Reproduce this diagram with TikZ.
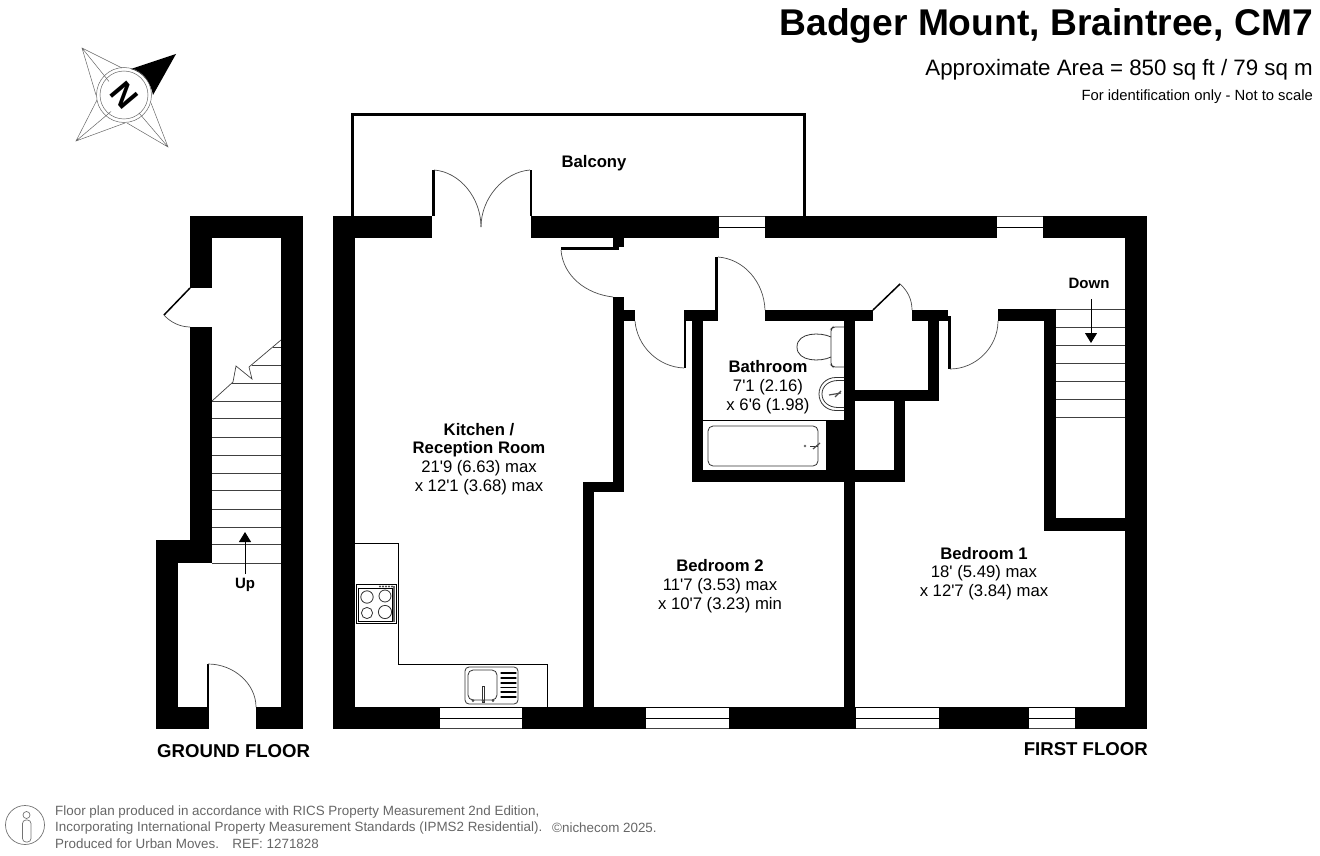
\documentclass[tikz,border=0pt]{standalone}
\usepackage{fontspec}
\setmainfont{Liberation Sans}
\usetikzlibrary{arrows.meta,calc}
\newcommand{\ft}{\textquotesingle}
\begin{document}
\begin{tikzpicture}
  [x=1pt,y=-1pt,line join=miter,
   wall/.style={fill=black},
   thin line/.style={draw=black,line width=0.7pt},
   tread/.style={draw=black!75,line width=1pt},
   arc line/.style={draw=black!70,line width=0.7pt},
   fixture/.style={draw=black!80,line width=0.8pt},
   walk arrow/.style={draw=black,line width=1pt,-{Triangle[length=10pt,width=12pt]}},
   star line/.style={draw=black!60,line width=0.5pt},
   room/.style={align=center,inner sep=0pt,font=\fontsize{16.7}{18.7}\selectfont},
   foot/.style={anchor=west,inner sep=0pt,text=black!60,font=\fontsize{13.4}{15}\selectfont}]
  \useasboundingbox (0,0) rectangle (1320,856);
  % ground floor
  \foreach \xa/\ya/\xb/\yb in {190/216/303/238,190/216/212/288,190/327/212/563,156/540/212/563,
      156/540/178/729,156/707/207/729,256/707/303/729,281/216/303/729,
      206.5/664/208.5/729}
    \fill[wall] (\xa,\ya) rectangle (\xb,\yb);
  \draw[black,line width=1.5pt] (190,288) -- (164,315);
  \draw[arc line] (164,315) .. controls (170,322) and (180,327) .. (190,327);
  \draw[arc line] (208,664) .. controls (234,664) and (256,684) .. (256,707);
  \foreach \y in {401,418,437,455,473,490,509,527,544,563}
    \draw[tread] (212,\y) -- (281,\y);
  \foreach \x/\y in {232/383,252/365,273/347}
    \draw[tread] (\x,\y) -- (281,\y);
  \draw[thin line,draw=black!75] (212,401) -- (233,382) -- (236,366) -- (252,379) -- (249,367) -- (281,340);
  \coordinate (up start) at (245,574);
  \coordinate (up end) at (245,532);
  \draw[walk arrow] (up start) -- (up end);
  \node[inner sep=0pt,font=\fontsize{15}{16}\bfseries\selectfont] (up) at (245,585) {Up};
  % first floor
  \foreach \xa/\ya/\xb/\yb in {333/216/432/238,531/216/1147/238,333/216/355/729,1125/216/1147/729,
      333/707/1147/729,613/238/624/247,561/247/619/250,613/297/624/492,583/482/624/492,583/482/594/707,
      624/310/635/321,684/310/716/321,765/310/873/321,912/310/948/321,998/309/1056/321,
      1044/309/1056/531,1044/518/1125/531,692/310/703/482,692/470/855/482,826/420/844/470,
      844/310/855/707,928/321/939/401,855/390/939/401,894/401/905/482,855/470/905/482,
      432/170/434.5/216,529.5/170/532/216,715/257/718/321,683.5/310/685.5/368,948/316/950.5/369}
    \fill[wall] (\xa,\ya) rectangle (\xb,\yb);
  \draw[black,line width=1.5pt] (873,310) -- (900,284);
  \draw[black,line width=3pt] (352,216) -- (352,114.5) -- (804,114.5) -- (804,216);
  % windows
  \foreach \xa/\xb in {719/765,997/1043} {
    \fill[white] (\xa,217) rectangle (\xb,238);
    \draw[thin line] (\xa,227.5) -- (\xb,227.5);
    \draw[tread] (\xa,216.5) -- (\xb,216.5);
  }
  \foreach \xa/\xb in {440/522,646/729,856/939,1029/1075} {
    \fill[white] (\xa,708) rectangle (\xb,728);
    \draw[thin line] (\xa,718) -- (\xb,718);
    \draw[tread] (\xa,728.5) -- (\xb,728.5);
  }
  % door swings
  \draw[arc line] (434,170) .. controls (460,172) and (481,198) .. (481,227);
  \draw[arc line] (530,170) .. controls (504,172) and (481,198) .. (481,227);
  \draw[arc line] (561,250) .. controls (563,276) and (586,294) .. (613,297);
  \draw[arc line] (635,321) .. controls (637,346) and (658,367) .. (684,368);
  \draw[arc line] (718,257) .. controls (744,259) and (764,282) .. (765,310);
  \draw[arc line] (900,284) .. controls (908,291) and (912,300) .. (912,310);
  \draw[arc line] (950,369) .. controls (976,369) and (998,347) .. (998,321);
  % stairs
  \foreach \y in {309,327,345,363,381,399,417}
    \draw[tread] (1056,\y) -- (1125,\y);
  \coordinate (down start) at (1091,299);
  \coordinate (down end) at (1091,343);
  \draw[walk arrow] (down start) -- (down end);
  % kitchen units
  \draw[thin line] (355,543) -- (398,543) -- (398,664) -- (547,664) -- (547,707);
  \draw[thin line] (356,584) rectangle (396,623);
  \draw[thin line] (358,588) rectangle (392,621);
  \fill[black!60] (392.5,586) rectangle (395,622);
  \foreach \x/\y/\r in {367/597/6.2,385/596/6,367/613/5.6,385/612/6.6}
    \draw[fixture] (\x,\y) circle (\r);
  \foreach \x in {380,383,386,389,392}
    \fill[black!70] (\x,586.5) circle (1.2);
  \draw[fixture,rounded corners=4pt] (465,667) rectangle (518,704);
  \draw[fixture,rounded corners=5pt] (468,670) rectangle (497,700);
  \foreach \y in {673,678,683,687.5,692,697}
    \draw[black,line width=1.3pt,line cap=round] (501,\y) -- (516,\y);
  \draw[fixture,fill=white] (482,686) rectangle (484.5,702);
  \foreach \x in {473,483,493}
    \fill[black!70] (\x,700.5) circle (1.5);
  % bathroom
  \draw[thin line] (703,420) -- (826,420);
  \draw[fixture,rounded corners=5pt] (708,426) rectangle (818,466);
  \fill[black!60] (805,446) circle (1.3);
  \draw[fixture] (810,446) -- (818,446);
  \draw[black!70,line width=1.2pt] (813,449) -- (820,443);
  \draw[fixture,rounded corners=2pt] (844,327) -- (833,327) -- (831,329) -- (831,365) -- (833,367) -- (844,367);
  \draw[fixture] (831,337) .. controls (821,332) and (797,332) .. (797,347) .. controls (797,362) and (821,362) .. (831,357);
  \draw[fixture] (844,377.5) -- (836,377.5) .. controls (826,377.5) and (819,385) .. (819,394) .. controls (819,403) and (826,410.5) .. (836,410.5) -- (844,410.5);
  \draw[fixture] (844,380.5) -- (838,380.5) .. controls (829,380.5) and (822,386) .. (822,394) .. controls (822,402) and (829,407.5) .. (838,407.5) -- (844,407.5);
  \draw[black!70,line width=1.2pt] (829,395) -- (841,393);
  \draw[black!70,line width=1.2pt] (835,397) -- (841,391);
  % labels
  \node[room] (balcony) at (594,163) {\bfseries Balcony};
  \node[room] (kitchen) at (479,459) {\bfseries Kitchen /\\\bfseries Reception Room\\21\ft9 (6.63) max\\x 12\ft1 (3.68) max};
  \node[room] (bathroom) at (768,387) {\bfseries Bathroom\\7\ft1 (2.16)\\x 6\ft6 (1.98)};
  \node[room] (bedroom two) at (720,586) {\bfseries Bedroom 2\\11\ft7 (3.53) max\\x 10\ft7 (3.23) min};
  \node[room] (bedroom one) at (984,573.5) {\bfseries Bedroom 1\\18\ft{} (5.49) max\\x 12\ft7 (3.84) max};
  \node[inner sep=0pt,font=\fontsize{15}{16}\bfseries\selectfont] (down) at (1089,283) {Down};
  \node[anchor=west,inner sep=0pt,font=\fontsize{18.6}{20}\bfseries\selectfont] (ground floor) at (157,751) {GROUND FLOOR};
  \node[anchor=east,inner sep=0pt,font=\fontsize{18.6}{20}\bfseries\selectfont] (first floor) at (1148,749) {FIRST FLOOR};
  % heading
  \node[anchor=east,inner sep=0pt,font=\fontsize{37.2}{40}\bfseries\selectfont] (title) at (1313,26) {Badger Mount, Braintree, CM7};
  \node[anchor=east,inner sep=0pt,font=\fontsize{22.3}{26}\selectfont] (area) at (1313,69.5) {Approximate Area = 850 sq ft / 79 sq m};
  \node[anchor=east,inner sep=0pt,font=\fontsize{14.8}{16}\selectfont] (scale) at (1313,96.5) {For identification only - Not to scale};
  % compass
  \coordinate (compass) at (124,95);
  \foreach \tx/\ty/\ax/\ay/\bx/\by in {82/48/122/68/96/95,76/141/97/100/125/123,168/147/151/103/127/123}
    \draw[star line] (\ax,\ay) -- (\tx,\ty) -- (\bx,\by) (\tx,\ty) -- ($(\ax,\ay)!0.5!(\bx,\by)$);
  \fill[black] (176,54) -- (131,69) .. controls (143,72) and (151,83) .. (153,95) -- cycle;
  \draw[star line] (compass) circle (27.5);
  \draw[star line] (compass) circle (24);
  \node[rotate=-50,inner sep=0pt,font=\fontsize{32}{33}\bfseries\selectfont] (north) at (compass) {N};
  % footer
  \draw[draw=black!55,line width=0.7pt] (25,825) circle (19.5);
  \draw[draw=black!55,line width=0.7pt] (26.5,815) circle (3.5);
  \draw[draw=black!55,line width=0.7pt,rounded corners=3.5pt] (22.5,820) rectangle (31,842);
  \node[foot] (line one) at (55,812) {Floor plan produced in accordance with RICS Property Measurement 2nd Edition,};
  \node[foot] (line two) at (55,828) {Incorporating International Property Measurement Standards (IPMS2 Residential).};
  \node[foot] (copyright) at (552,828) {©nichecom 2025.};
  \node[foot] (line three) at (55,844) {Produced for Urban Moves.\quad REF: 1271828};
\end{tikzpicture}
\end{document}
